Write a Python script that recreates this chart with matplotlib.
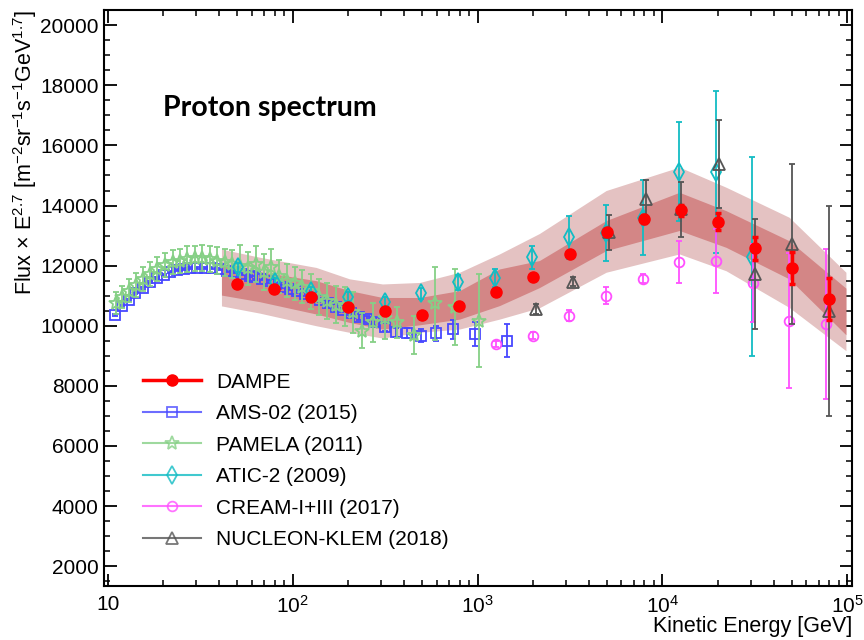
import matplotlib
matplotlib.use('Agg')
import matplotlib.pyplot as plt
from matplotlib.lines import Line2D
from matplotlib.ticker import FixedLocator, FixedFormatter, MultipleLocator, NullFormatter
import numpy as np

plt.rcParams['font.family'] = ['Liberation Sans', 'DejaVu Sans']
plt.rcParams['mathtext.default'] = 'regular'

# ---- DAMPE (points + stat errors) ----
dampe_E = [50.1, 79.4, 125.9, 199.5, 316.2, 501.2, 794.3, 1259, 1995, 3162,
           5012, 7943, 12589, 19953, 31623, 50119, 79433]
dampe_F = [11390, 11220, 10970, 10630, 10480, 10370, 10670, 11130, 11630, 12380,
           13110, 13540, 13840, 13460, 12580, 11920, 10900]
dampe_err = [20, 20, 20, 25, 30, 35, 40, 50, 60, 70, 90, 130, 180, 280, 380, 540, 700]

# DAMPE systematic bands (outer top, inner top, inner bottom, outer bottom)
band_E = [41.2, 66.3, 134, 203, 306, 486, 800, 1315, 2163, 4963, 12360, 22100, 48500, 98400]
band_out_hi = [12550, 12280, 11940, 11560, 11390, 11440, 11780, 12390, 13070, 14500, 15280, 14610, 13610, 11780]
band_in_hi = [12080, 11800, 11500, 11170, 10940, 10940, 11170, 11890, 12170, 13500, 14440, 13830, 12830, 11250]
band_in_lo = [11020, 10800, 10390, 10110, 9890, 10030, 10220, 10670, 11270, 12500, 13170, 12610, 11560, 9700]
band_out_lo = [10660, 10420, 10000, 9780, 9590, 9780, 9890, 10220, 10600, 11780, 12390, 11830, 10610, 9170]

# ---- AMS-02 (2015) ----
ams_E = [10.9, 12.0, 13.0, 14.1, 15.5, 17.0, 18.5, 20.1, 21.8, 23.7, 25.8, 28.0, 30.4,
         33.4, 36.8, 40.3, 44.2, 48.6, 53.5, 58.6, 62.3, 68.0, 74.2, 81.6, 88.6, 97.2,
         106, 116, 129, 141, 155, 171, 187, 206, 228, 252, 277, 314, 361, 413, 492,
         593, 733, 975, 1435]
ams_F = [10357, 10667, 10867, 11077, 11267, 11443, 11590, 11700, 11777, 11843, 11890,
         11910, 11923, 11923, 11910, 11877, 11833, 11777, 11710, 11643, 11610, 11550,
         11477, 11390, 11300, 11223, 11143, 11057, 10967, 10857, 10743, 10633, 10523,
         10410, 10300, 10223, 10133, 9967, 9777, 9757, 9667, 9743, 9877, 9710, 9500]
ams_err = [30] * 20 + [40, 40, 40, 50, 50, 50, 60, 60, 60, 70, 70, 80, 80, 90, 100,
                       110, 120, 130, 150, 180, 220, 250, 320, 400, 550]

# ---- PAMELA (2011) ----
pam_E = [11.05, 12.0, 13.0, 14.2, 15.5, 17.0, 18.5, 20.3, 22.4, 24.5, 26.8, 29.5, 32.5,
         35.6, 39.0, 42.9, 47.2, 51.7, 57.3, 63.7, 69.7, 76.0, 84.0, 92.8, 102.5, 113,
         125, 138, 153, 171, 191, 211, 236, 271, 314, 365, 456, 586, 751, 1025]
pam_F = [10757, 10967, 11167, 11357, 11557, 11723, 11890, 12023, 12110, 12167, 12223,
         12243, 12257, 12223, 12167, 12110, 12057, 11977, 11910, 12067, 11800, 11950,
         11650, 11500, 11420, 11300, 11150, 10950, 10820, 10700, 10650, 10450, 9830,
         10110, 10250, 10110, 9700, 10740, 10630, 10170]
pam_err = [350, 370, 380, 400, 400, 400, 400, 400, 400, 400, 420, 420, 420, 430, 450,
           460, 480, 700, 550, 600, 600, 620, 550, 550, 550, 560, 580, 600, 600, 620,
           650, 680, 580, 650, 700, 530, 630, 1200, 1270, 1550]

# ---- ATIC-2 (2009) ----
atic_E = [50.6, 80.6, 126, 199, 314, 497, 783, 1236, 1966, 3119, 4965, 7830, 12360, 19500, 30600]
atic_F = [11943, 11443, 11150, 10967, 10800, 11077, 11443, 11577, 12277, 12943, 13100,
          13600, 15133, 15110, 12300]
atic_err = [150, 150, 150, 150, 160, 180, 250, 300, 390, 720, 930, 1250, 1640, 2700, 3300]

# ---- CREAM-I+III (2017) ----
cream_E = [1262, 1990, 3141, 4963, 7830, 12360, 19590, 30760, 48530, 77200]
cream_F = [9390, 9667, 10340, 11000, 11570, 12130, 12160, 11420, 10170, 10060]
cream_err = [100, 120, 170, 290, 150, 700, 1060, 1300, 2250, 2500]

# ---- NUCLEON-KLEM (2018) ----
nuc_E = [2075, 3273, 5176, 8150, 12690, 20140, 31840, 50200, 79300]
nuc_F = [10557, 11470, 13110, 14220, 13870, 15390, 11720, 12720, 10500]
nuc_err = [150, 150, 580, 630, 930, 1470, 1820, 2650, 3500]


def main():
    fig = plt.figure(figsize=(8.64, 6.4), dpi=100)
    ax = fig.add_axes([0.120, 0.084, 0.866, 0.900])

    # bande sistematiche DAMPE
    ax.fill_between(band_E, band_out_lo, band_out_hi, color='#e4c2c2', lw=0, zorder=1)
    ax.fill_between(band_E, band_in_lo, band_in_hi, color='#d38686', lw=0, zorder=2)

    series = [
        (ams_E, ams_F, ams_err, '#4848ff', 's', 6.5, 'AMS-02 (2015)'),
        (pam_E, pam_F, pam_err, '#86d086', '*', 10, 'PAMELA (2011)'),
        (atic_E, atic_F, atic_err, '#12bcc4', 'd', 9, 'ATIC-2 (2009)'),
        (cream_E, cream_F, cream_err, '#ff50ff', 'o', 7, 'CREAM-I+III (2017)'),
        (nuc_E, nuc_F, nuc_err, '#555555', '^', 8, 'NUCLEON-KLEM (2018)'),
    ]
    handles = []
    for i, (E, F, err, c, m, ms, lab) in enumerate(series):
        ax.errorbar(E, F, yerr=err, fmt=m, color=c, mfc='none', mec=c, ms=ms,
                    mew=1.3, elinewidth=1.3, capsize=2, capthick=1.3, zorder=3 + i)
        handles.append(Line2D([], [], color=c, lw=1.5, alpha=0.8, marker=m,
                              mfc='none', mec=c, ms=ms, mew=1.3, label=lab))

    ax.errorbar(dampe_E, dampe_F, yerr=dampe_err, fmt='o', color='red', ms=8,
                elinewidth=2.5, capsize=2, capthick=2.5, zorder=10)
    handles.insert(0, Line2D([], [], color='red', lw=2.5, marker='o', ms=8, label='DAMPE'))

    ax.set_xscale('log')
    ax.set_xlim(9.5, 1.06e5)
    ax.set_ylim(1330, 20500)

    ax.xaxis.set_major_locator(FixedLocator([10, 100, 1000, 1e4, 1e5]))
    ax.xaxis.set_major_formatter(FixedFormatter(['10', '$10^{2}$', '$10^{3}$', '$10^{4}$', '$10^{5}$']))
    ax.xaxis.set_minor_formatter(NullFormatter())
    ax.yaxis.set_major_locator(MultipleLocator(2000))
    ax.yaxis.set_minor_locator(MultipleLocator(500))

    ax.tick_params(which='both', direction='in', top=True, right=True, labelsize=15)
    ax.tick_params(which='major', length=9, width=1.3)
    ax.tick_params(which='minor', length=4.5, width=1.1)
    ax.tick_params(axis='x', pad=6)
    for sp in ax.spines.values():
        sp.set_linewidth(1.5)

    ax.set_xlabel('Kinetic Energy [GeV]', fontsize=15.5, loc='right')
    ax.set_ylabel(r'Flux $\times$ E$^{2.7}$ [m$^{-2}$sr$^{-1}$s$^{-1}$GeV$^{1.7}$]',
                  fontsize=15.5, loc='top')
    ax.yaxis.set_label_coords(-0.087, 1.0)
    ax.xaxis.set_label_coords(1.0, -0.051)

    ax.text(0.079, 0.83, 'Proton spectrum', transform=ax.transAxes, fontsize=20.5,
            fontweight='bold', family=['Lato', 'DejaVu Sans'], va='center')

    ax.legend(handles=handles, loc='upper left', bbox_to_anchor=(0.052, 0.371),
              frameon=False, fontsize=15, handlelength=2.8, handletextpad=0.73,
              labelspacing=0.6, borderpad=0, borderaxespad=0)

    fig.savefig('out.png', dpi=100)
    plt.close(fig)


if __name__ == '__main__':
    main()
